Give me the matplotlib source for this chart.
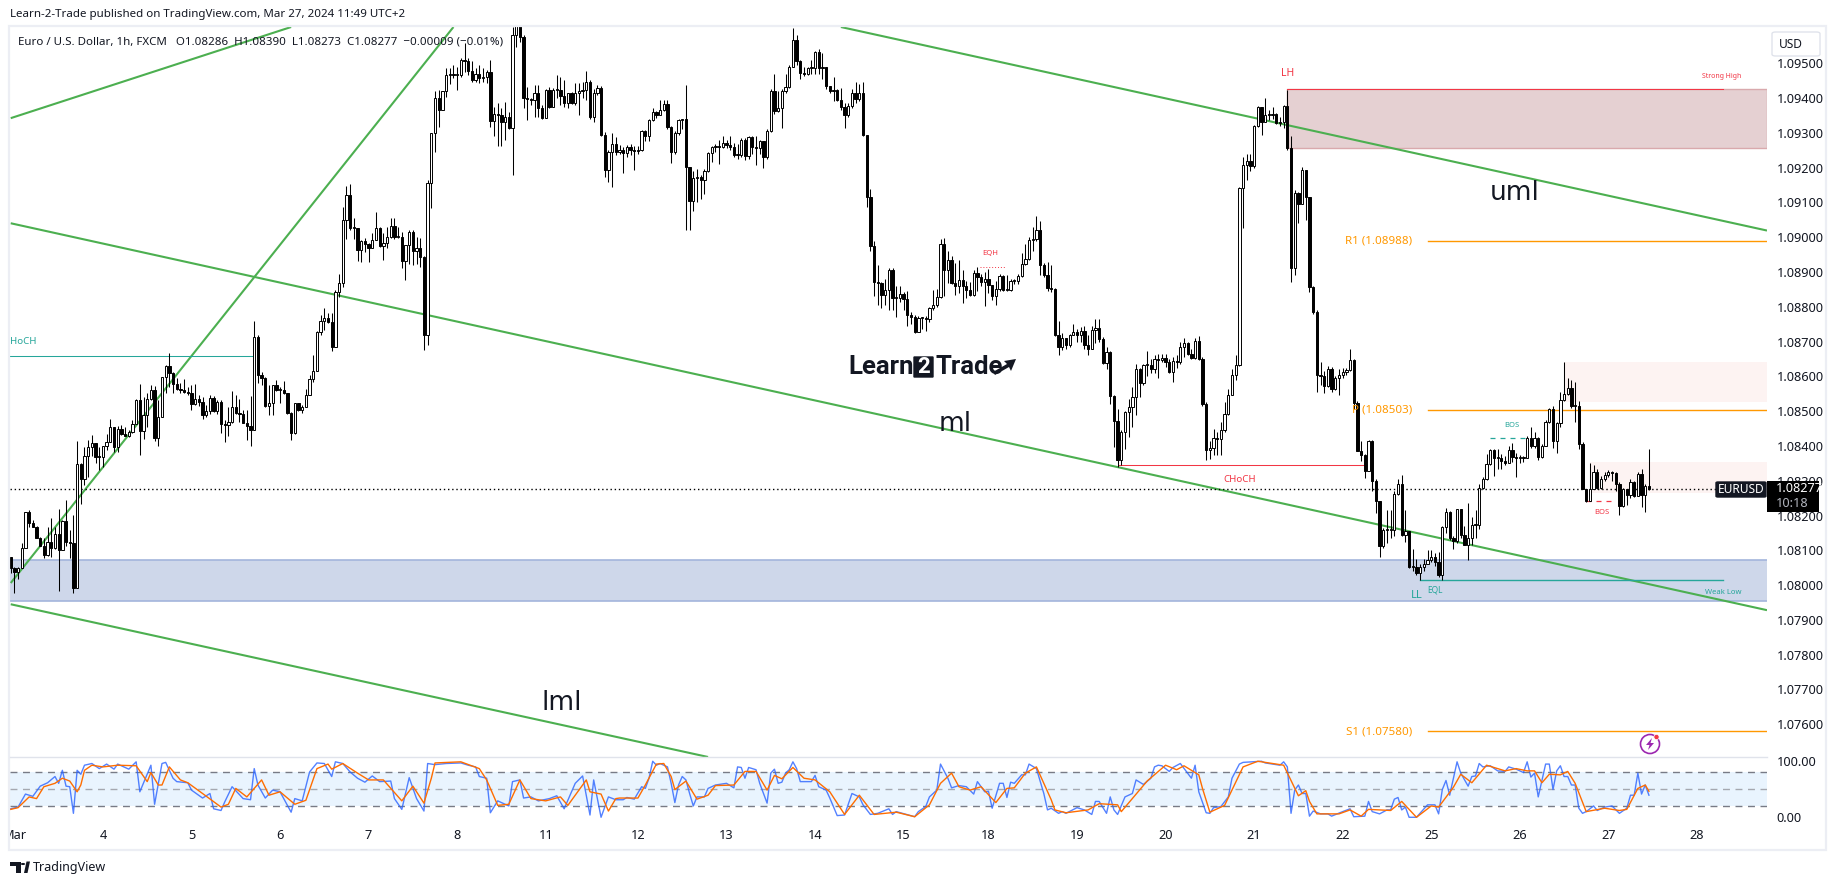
import matplotlib
matplotlib.use('Agg')
from matplotlib import pyplot as plt
from matplotlib.patches import Rectangle, FancyBboxPatch, Circle, Polygon
from matplotlib.transforms import Bbox

W, H = 1835, 885
plt.rcParams['font.family'] = ['Noto Sans', 'DejaVu Sans']

# prices are stored as 1e-5 steps above 1.08000
first_open = 81
closes = [48,38,50,108,209,179,166,134,113,86,123,108,148,102,184,125,122,-7,348,305,372,396,407,369,367,399,412,453,398,450,
434,429,439,464,533,444,489,536,560,424,482,597,629,610,577,563,561,555,552,520,536,525,489,500,539,500,525,463,461,468,
511,496,492,467,458,445,712,605,596,514,524,575,560,562,551,495,436,522,503,512,546,591,616,728,760,769,755,685,843,867,
1049,1121,1025,1027,963,989,980,968,993,1027,975,983,1001,1033,1001,1001,932,977,1014,961,968,942,718,1156,1298,1399,1365,1420,1465,1469,
1466,1466,1509,1507,1478,1453,1469,1456,1461,1475,1334,1355,1350,1332,1346,1315,1581,1610,1576,1400,1397,1394,1415,1370,1342,1424,1375,1424,1424,1405,
1385,1414,1385,1414,1420,1424,1445,1344,1414,1430,1293,1192,1245,1269,1245,1250,1241,1260,1250,1248,1250,1305,1290,1336,1360,1350,1365,1382,1317,1245,
1300,1336,1340,1202,1105,1169,1173,1165,1190,1241,1258,1263,1260,1271,1265,1260,1236,1236,1279,1232,1287,1260,1255,1277,1229,1305,1420,1363,1370,1420,
1432,1490,1568,1507,1471,1469,1485,1487,1531,1487,1490,1434,1420,1422,1394,1373,1351,1377,1413,1396,1413,1293,1116,974,872,869,833,848,907,824,
826,838,822,776,771,728,768,768,765,795,805,827,979,905,934,869,860,877,860,848,833,898,886,872,881,862,830,850,888,848,
848,874,874,888,922,936,993,995,1022,920,891,853,851,720,683,709,690,720,728,718,731,690,680,733,738,706,639,670,544,472,
361,441,498,512,540,620,582,632,632,622,649,647,654,642,613,644,640,685,695,665,654,702,651,520,388,393,424,419,445,493,
546,603,632,1140,1207,1218,1205,1319,1373,1332,1352,1352,1355,1329,1330,1376,1255,912,1127,1096,1193,1116,857,785,603,600,572,622,565,596,
603,613,618,648,522,386,374,328,414,300,242,113,158,158,158,261,292,144,156,53,53,35,53,62,72,80,67,29,166,210,
134,126,218,144,115,134,172,172,280,304,347,388,364,365,357,352,388,369,364,365,365,423,400,423,368,400,468,505,415,465,
532,548,567,516,516,405,276,241,276,324,280,305,317,325,322,292,228,276,258,295,256,319,259,285,277]
highs = [81,53,53,120,211,216,187,170,137,134,168,194,168,220,187,244,158,201,415,350,398,417,431,409,398,400,434,477,455,457,
460,455,445,474,536,578,541,551,575,572,532,599,632,668,613,594,581,591,570,575,578,546,541,517,546,543,532,532,474,512,
558,546,534,503,503,543,760,718,613,599,575,575,589,568,586,553,498,522,524,517,565,604,661,731,776,795,783,781,848,894,
1087,1147,1152,1054,1025,992,999,984,1011,1073,1030,1011,1028,1054,1054,1030,1015,977,1020,1020,1001,999,945,1164,1298,1421,1423,1420,1485,1485,
1494,1490,1514,1557,1514,1507,1485,1494,1485,1480,1509,1375,1386,1370,1389,1360,1605,1640,1640,1580,1432,1400,1437,1437,1380,1427,1432,1430,1466,1459,
1451,1414,1418,1442,1442,1447,1478,1451,1427,1437,1434,1301,1250,1298,1288,1265,1260,1265,1268,1262,1262,1307,1307,1340,1370,1364,1395,1395,1395,1320,
1305,1340,1340,1437,1203,1190,1195,1180,1195,1245,1262,1268,1280,1290,1280,1290,1270,1268,1285,1285,1290,1290,1290,1280,1270,1310,1425,1470,1420,1425,
1470,1495,1600,1580,1510,1490,1490,1510,1535,1540,1530,1490,1435,1460,1425,1430,1385,1385,1425,1445,1440,1445,1295,1137,990,920,872,880,912,912,
860,860,842,845,785,775,772,770,772,800,848,850,995,998,960,945,925,933,905,875,870,905,915,895,900,908,860,875,895,892,
892,880,880,895,955,980,1000,1030,1060,1047,925,930,920,855,760,725,705,723,750,735,742,745,720,745,765,765,712,685,672,545,
505,445,500,535,570,635,625,635,673,650,660,665,665,665,650,655,660,700,710,700,680,710,715,655,525,415,450,440,470,525,
565,620,660,1145,1230,1240,1240,1322,1378,1375,1400,1365,1375,1358,1345,1380,1424,1290,1135,1130,1202,1169,1116,860,790,642,615,630,628,600,
620,625,625,678,650,530,415,378,418,418,305,242,165,215,215,270,305,316,215,155,105,75,60,75,100,100,92,95,170,222,
214,140,218,220,170,235,195,215,290,310,378,390,390,390,378,372,400,408,380,375,370,428,455,440,425,405,475,510,515,470,
555,640,595,590,585,530,412,277,350,345,335,315,325,330,328,325,295,280,275,305,300,325,335,290,390]
lows = [35,-24,19,48,108,166,166,134,112,77,84,81,105,-16,101,112,77,-22,-7,233,287,311,371,350,330,340,388,412,383,383,
431,428,426,438,463,374,421,455,532,415,400,482,553,570,553,560,551,553,546,503,517,514,476,484,491,498,493,438,412,428,
466,491,469,465,417,400,445,580,575,512,489,489,558,522,549,491,417,434,501,495,512,546,584,616,718,733,752,673,685,829,
857,996,1020,996,932,929,958,929,968,992,972,934,968,999,996,999,910,877,924,920,924,915,675,690,1083,1245,1317,1365,1403,1440,
1456,1423,1461,1475,1466,1447,1447,1442,1445,1444,1317,1290,1262,1262,1279,1312,1178,1547,1560,1370,1336,1380,1346,1346,1341,1370,1370,1373,1399,1380,
1375,1370,1382,1380,1351,1400,1394,1341,1332,1410,1290,1173,1159,1145,1235,1240,1183,1230,1235,1193,1240,1248,1275,1275,1335,1342,1355,1362,1312,1212,
1240,1293,1310,1020,1020,1075,1100,1110,1125,1188,1215,1245,1210,1255,1255,1250,1230,1225,1230,1222,1225,1240,1207,1240,1200,1225,1303,1355,1360,1315,
1415,1428,1490,1495,1455,1462,1467,1470,1470,1470,1455,1425,1413,1390,1390,1365,1315,1345,1370,1385,1390,1290,1087,960,830,805,795,805,790,790,
770,815,790,745,750,725,728,735,730,755,790,800,825,830,868,865,833,840,812,825,830,830,845,860,802,840,820,805,845,845,
845,845,865,865,885,920,934,960,990,891,885,845,843,715,660,675,680,685,718,700,700,680,660,678,695,700,635,620,520,397,
340,345,392,425,455,490,540,575,600,610,610,594,640,628,610,584,625,635,655,660,650,650,648,515,361,362,375,375,373,440,
490,545,590,630,1025,1165,1190,1200,1318,1295,1330,1338,1340,1325,1320,1315,1250,870,891,1040,1096,1050,843,780,556,575,553,570,555,560,
546,595,605,616,505,385,357,309,328,271,208,81,108,120,135,140,258,140,125,50,40,30,14,40,62,65,55,22,15,150,
130,105,120,135,115,72,115,135,162,275,303,345,315,335,335,345,360,355,310,350,355,365,395,395,360,365,400,465,395,380,
455,530,545,510,470,390,275,240,265,275,275,275,300,310,300,270,202,225,230,250,252,255,225,210,273]

price_ticks = list(range(-400, 1600, 100))
date_bars = [1,25,49,73,97,121,145,170,194,218,242,265,289,313,337,361,385,409,433,457]
date_labels = ['Mar','4','5','6','7','8','11','12','13','14','15','18','19','20','21','22','25','26','27','28']

# stochastic rsi vertices, (bar, value)
k_bars = [0,2,4,6,8,10,12,13,14,15,16,17,18,19,20,22,24,26,28,29,32,34,35,38,39,41,42,44,45,48,49,52,54,55,57,58,60,63,65,66,67,69,71,73,76,77,79,81,83,85,87,88,90,92,94,96,98,100,103,104,106,108,110,112,113,115,118,122,124,126,127,129,130,132,135,136,138,139,141,143,146,148,150,153,155,157,158,160,162,164,
166,167,169,171,172,173,174,175,176,178,179,180,181,182,183,184,185,186,188,189,191,194,196,197,198,199,200,202,203,205,206,207,208,209,210,211,212,213,214,217,218,219,221,222,224,226,228,230,231,233,235,238,239,240,245,246,248,249,251,252,254,255,257,
259,261,262,264,265,266,268,269,270,271,272,274,275,276,278,280,281,282,284,285,286,289,291,293,294,295,297,298,299,300,302,304,305,307,309,310,311,312,314,315,317,320,321,322,324,325,326,328,330,331,333,334,339,340,344,345,346,347,348,349,
350,351,352,353,355,357,358,361,363,364,367,368,369,371,373,374,375,376,377,378,379,381,384,386,387,388,389,390,392,393,395,396,397,398,399,401,403,405,406,408,410,411,412,413,414,416,417,418,419,420,421,422,423,424,425,426,427,429,430,432,434,436,438,439,440,441,442,443,444]
k_vals = [15,18,41,37,55,61,72,60,83,55,54,7,83,76,92,95,86,94,85,94,85,98,45,92,23,95,97,69,63,61,48,34,42,15,12,27,54,33,31,86,57,34,48,45,9,33,29,80,96,95,72,98,95,80,69,62,73,63,64,33,14,70,33,11,95,93,95,96,92,89,72,69,8,29,20,63,66,34,36,29,33,38,15,60,73,4,66,0,36,31,
31,35,32,54,51,69,99,92,95,89,60,26,57,72,66,42,20,36,36,51,57,60,52,89,88,69,88,84,60,25,78,85,60,62,78,84,98,86,63,63,74,54,48,34,3,4,42,36,22,5,7,15,5,10,1,10,19,36,48,94,69,52,56,
54,41,63,45,46,16,60,60,35,62,60,75,75,94,86,42,13,16,7,10,7,17,13,5,28,28,7,36,13,5,36,42,66,58,69,89,92,91,81,88,95,69,92,45,8,7,17,19,36,69,94,97,99,96,92,98,89,7,48,57,
42,42,2,11,6,6,2,10,15,1,2,28,10,6,13,13,32,35,13,18,0,0,22,22,6,49,65,39,98,78,55,72,73,95,89,91,82,81,89,85,79,98,71,78,36,94,94,49,82,91,72,72,57,57,16,7,10,20,12,18,20,7,16,39,39,78,41,57,39]
d_bars = [0,2,5,7,9,12,14,16,18,19,20,22,25,29,34,37,38,40,41,43,46,48,52,57,59,61,64,68,70,73,77,80,83,86,87,90,94,97,101,106,109,112,114,115,122,127,129,132,135,138,141,145,149,151,156,157,160,162,164,
165,170,172,175,177,179,180,183,186,189,191,196,199,202,205,207,209,212,215,218,222,226,230,234,240,245,249,252,255,257,
260,263,267,270,272,275,278,282,283,286,292,295,300,301,308,313,316,318,322,323,325,329,334,338,345,349,
351,352,354,360,363,366,368,371,374,377,381,385,387,391,393,396,400,405,408,411,413,415,417,420,422,424,427,432,436,438,441,443,444]
d_vals = [14,17,36,33,54,60,69,64,45,57,83,92,89,92,91,63,79,57,57,89,66,61,42,18,23,51,36,66,39,45,23,30,86,94,85,95,78,66,66,29,55,25,69,96,98,86,66,21,23,66,33,29,36,21,66,45,41,11,33,
34,34,57,94,95,72,49,64,32,39,56,57,81,81,48,74,68,88,69,66,45,5,39,5,9,1,22,60,78,54,
48,54,26,51,52,78,89,31,13,8,13,24,22,10,64,92,84,91,75,51,9,21,89,99,92,38,
47,28,6,6,13,2,14,13,12,28,0,20,18,53,76,61,92,82,86,82,82,61,76,75,81,60,10,16,12,14,51,57,46]

# channel and zone levels
trend_lines = [([225, 476], [1604, 1019]), ([0, 476], [1040, -72]), ([0, 189], [-55, -494]),
               ([0, 76], [1342, 1604]), ([0, 120], [6, 1604])]
pivot_levels = [988, 503, -420]
pivot_names = ['R1 (1.08988)', 'P (1.08503)', 'S1 (1.07580)']
last_price = 277

fig = plt.figure(figsize=(W / 100, H / 100), dpi=100, facecolor='white')


def pane(left, top, right, bottom):
    return fig.add_axes([left / W, 1 - bottom / H, (right - left) / W, (bottom - top) / H])


def txt(x, y, s, **kw):
    kw.setdefault('va', 'center')
    return fig.text(x / W, 1 - y / H, s, **kw)


ax = pane(10, 27, 1767, 757)
ax.set_xlim(-0.19, 476)
ax.set_ylim(-494, 1604)
ax.set_facecolor('white')
for s in ax.spines.values():
    s.set_visible(False)

RED = '#f23645'
TEAL = '#26a69a'
ORANGE = '#ff9800'
GREEN = '#4caf50'

# zones
ax.add_patch(Rectangle((346, 1255), 130, 170, fc='#e5d0d2', ec='#d9a9ad', lw=1, zorder=1))
ax.add_patch(Rectangle((-1, -45), 478, 116, fc='#ced7ea', ec='#a3b5dc', lw=1.2, zorder=1))
ax.add_patch(Rectangle((421, 527), 55, 115, fc='#fdf3f2', ec='none', zorder=1))
ax.add_patch(Rectangle((428, 265), 48, 88, fc='#fdf3f2', ec='none', zorder=1))

for bars, prices in trend_lines:
    ax.plot(bars, prices, color=GREEN, lw=1.5, zorder=2, solid_capstyle='butt')

for lvl in pivot_levels:
    ax.plot([384, 476], [lvl, lvl], color=ORANGE, lw=1, zorder=2)
ax.axhline(last_price, color='black', lw=1, ls=(0, (1, 2)), zorder=2)

ax.plot([346, 464], [1425, 1425], color=RED, lw=0.75, zorder=2)
ax.plot([300.5, 367], [345, 345], color=RED, lw=0.75, zorder=2)
ax.plot([-1, 66], [658, 658], color=TEAL, lw=0.75, zorder=2)
ax.plot([382, 464], [16, 16], color=TEAL, lw=1, zorder=2)
ax.plot([262.6, 269.4], [915, 915], color=RED, lw=0.7, ls=(0, (1, 2)), zorder=2)
ax.plot([401, 411], [423, 423], color=TEAL, lw=0.9, ls=(0, (4, 4)), zorder=2)
ax.plot([427, 434.6], [241, 241], color=RED, lw=0.9, ls=(0, (4, 4)), zorder=2)

# candles
opens = [first_open] + closes[:-1]
for i, (o, h, l, c) in enumerate(zip(opens, highs, lows, closes)):
    ax.plot([i, i], [l, h], color='black', lw=0.75, zorder=3, solid_capstyle='butt')
    up = c >= o
    ax.bar(i, max(abs(c - o), 3), bottom=min(o, c), width=0.62, color='white' if up else 'black',
           edgecolor='black', linewidth=0.7, zorder=4)

ax.set_xticks([])
ax.yaxis.tick_right()
ax.set_yticks(price_ticks)
ax.set_yticklabels([f'{1.08 + p / 1e5:.5f}' for p in price_ticks], fontsize=9.2, color='#131722')
ax.tick_params(axis='y', length=0, pad=7)

# lower pane
ax2 = pane(10, 757, 1767, 826)
ax2.set_xlim(-0.19, 476)
ax2.set_ylim(-15.4, 106.5)
for s in ax2.spines.values():
    s.set_visible(False)
ax2.axhspan(20, 80, color='#e9f4fe', zorder=1, lw=0)
ax2.axhline(80, color='#787b86', lw=1, ls=(0, (5, 4)), zorder=2)
ax2.axhline(50, color='#a5a8b0', lw=1, ls=(0, (5, 4)), zorder=2)
ax2.axhline(20, color='#787b86', lw=1, ls=(0, (5, 4)), zorder=2)
ax2.plot(k_bars, k_vals, color='#2962ff', alpha=0.8, lw=1, zorder=3)
ax2.plot(d_bars, d_vals, color='#ff6d00', lw=1, zorder=4)
ax2.yaxis.tick_right()
ax2.set_yticks([0, 100])
ax2.set_yticklabels(['0.00', '100.00'], fontsize=9.2, color='#131722')
ax2.set_xticks(date_bars)
ax2.set_xticklabels(date_labels, fontsize=9.2, color='#131722')
ax2.tick_params(axis='y', length=0, pad=7)
ax2.tick_params(axis='x', length=0, pad=2)
mar = ax2.get_xticklabels()[0]
mar.set_clip_on(True)
mar.set_clip_box(Bbox([[9, 0], [200, H]]))

# outer frame
fig.add_artist(Rectangle((8.5 / W, 1 - 850 / H), 1817 / W, 824 / H, transform=fig.transFigure,
                         fc='none', ec='#eceef4', lw=1.6))
fig.add_artist(plt.Line2D([10 / W, 1767 / W], [1 - 757 / H] * 2, color='#e0e3eb', lw=1))

# header
txt(10, 15, 'Learn-2-Trade published on TradingView.com, Mar 27, 2024 11:49 UTC+2', fontsize=8.3, color='#131722')
txt(18, 42, 'Euro / U.S. Dollar, 1h, FXCM   O1.08286  H1.08390  L1.08273  C1.08277  \u22120.00009 (\u22120.01%)',
    fontsize=8.3, color='#131722', zorder=10)

# chart notes
txt(1722, 77, 'Strong High', fontsize=5, color=RED, ha='center')
txt(1288, 73, 'LH', fontsize=7.5, color=RED, ha='center')
txt(990, 254, 'EQH', fontsize=5.5, color=RED, ha='center')
txt(1240, 480, 'CHoCH', fontsize=7, color=TEAL if False else RED, ha='center')
txt(10, 341, 'HoCH', fontsize=7, color=TEAL)
txt(1512, 426, 'BOS', fontsize=5.5, color=TEAL, ha='center')
txt(1602, 513, 'BOS', fontsize=5.5, color=RED, ha='center')
txt(1417, 596, 'LL', fontsize=8, color=TEAL, ha='center')
txt(1435, 590, 'EQL', fontsize=6, color=TEAL, ha='center')
txt(1723, 592, 'Weak Low', fontsize=5.5, color=TEAL, ha='center')
txt(1515, 193, 'uml', fontsize=19, color='#131722', ha='center', family='DejaVu Sans')
txt(955, 424, 'ml', fontsize=19, color='#131722', ha='center', family='DejaVu Sans')
txt(562, 703, 'lml', fontsize=19, color='#131722', ha='center', family='DejaVu Sans')
for lvl_y, name in zip([241, 410, 732], pivot_names):
    txt(1412, lvl_y, name, fontsize=8.3, color=ORANGE, ha='right', zorder=1)

# logo
txt(848, 367, 'Learn', fontsize=18.5, fontweight='bold', family='Roboto', color='#131722')
fig.add_artist(FancyBboxPatch((914 / W, 1 - 377 / H), 19 / W, 20 / H, transform=fig.transFigure,
                              boxstyle='round,pad=0', fc='#131722', ec='#131722', lw=1))
txt(923.5, 367, '2', fontsize=16, fontweight='bold', family='Roboto', color='white', ha='center')
txt(935, 367, 'Trade', fontsize=18.5, fontweight='bold', family='Roboto', color='#131722')
fig.add_artist(Polygon([(993 / W, 1 - 372 / H), (1007 / W, 1 - 364 / H), (1004 / W, 1 - 361 / H), (1016 / W, 1 - 359 / H),
                        (1011 / W, 1 - 371 / H), (1009 / W, 1 - 367 / H), (995 / W, 1 - 375 / H)],
                       transform=fig.transFigure, fc='#131722', ec='none'))

# price labels
fig.add_artist(FancyBboxPatch((1716 / W, 1 - 497 / H), 50 / W, 15 / H, transform=fig.transFigure,
                              boxstyle='round,pad=0,rounding_size=0.001', fc='#131722', ec='#131722', zorder=8))
txt(1741, 489.5, 'EURUSD', fontsize=8.6, color='white', ha='center', zorder=9, fontweight='medium')
fig.add_artist(Rectangle((1767 / W, 1 - 512 / H), 52 / W, 31 / H, transform=fig.transFigure, fc='#000000', ec='none', zorder=8))
txt(1776, 489, '1.08277', fontsize=9.2, color='white', zorder=9)
txt(1776, 503.5, '10:18', fontsize=9.2, color='#b2b5be', zorder=9)

# currency box
fig.add_artist(FancyBboxPatch((1772 / W, 1 - 56 / H), 48 / W, 24 / H, transform=fig.transFigure,
                              boxstyle='round,pad=0,rounding_size=0.002', fc='white', ec='#e0e3eb', lw=1, zorder=8))
txt(1791, 44, 'USD', fontsize=8.6, color='#131722', ha='center', zorder=9)

# alert icon
cx, cy = 1650, 744
ax_icon = pane(cx - 13, cy - 13, cx + 13, cy + 13)
ax_icon.set_xlim(-13, 13)
ax_icon.set_ylim(13, -13)
ax_icon.axis('off')
ax_icon.add_patch(Circle((0, 0), 9.5, fc='none', ec='#9c27b0', lw=1.2))
ax_icon.add_patch(Polygon([(2, -6), (-4, 1), (-0.5, 1), (-2, 6), (4, -1), (0.5, -1)], fc='#9c27b0', ec='none'))
ax_icon.add_patch(Circle((6.5, -7), 2.6, fc='#f23645', ec='white', lw=0.5))

# footer
fig.add_artist(Rectangle((10 / W, 1 - 866 / H), 10.5 / W, 4.5 / H, transform=fig.transFigure, fc='#131722', ec='none'))
fig.add_artist(Rectangle((15.5 / W, 1 - 873 / H), 5 / W, 8 / H, transform=fig.transFigure, fc='#131722', ec='none'))
fig.add_artist(Circle((23 / W, 1 - 864 / H), 0.0012, transform=fig.transFigure, fc='#131722', ec='none'))
fig.add_artist(Polygon([(24 / W, 1 - 873 / H), (26.5 / W, 1 - 861.5 / H), (30 / W, 1 - 861.5 / H), (27.5 / W, 1 - 873 / H)],
                       transform=fig.transFigure, fc='#131722', ec='none'))
txt(33, 867, 'TradingView', fontsize=9, color='#131722')

fig.savefig('out.png', dpi=100)
